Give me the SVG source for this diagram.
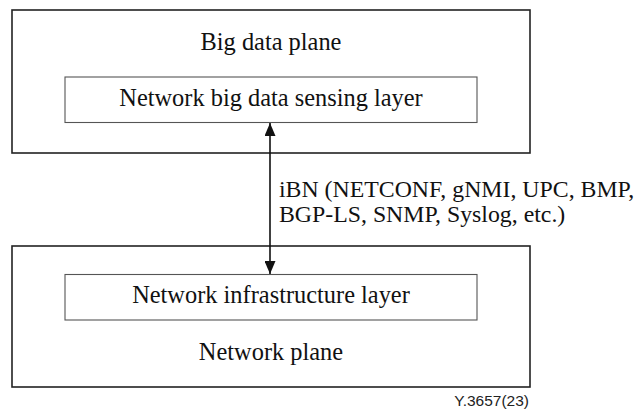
<svg xmlns="http://www.w3.org/2000/svg" width="641" height="410" viewBox="0 0 641 410">
<style>
.outer{fill:none;stroke:#222;stroke-width:1.6}
.inner{fill:none;stroke:#555;stroke-width:1.1}
.t{font-family:"Liberation Serif","Times New Roman",serif;font-size:24.4px;fill:#111}
.lbl{font-size:23.8px}
.c{text-anchor:middle}
.fig{font-family:"Liberation Sans",Arial,sans-serif;font-size:15.5px;fill:#222;text-anchor:end}
.conn{stroke:#111;stroke-width:1.6;fill:none}
</style>
<defs>
<marker id="ah" viewBox="0 0 13 11" refX="13" refY="5.5" markerWidth="13" markerHeight="11" markerUnits="userSpaceOnUse" orient="auto-start-reverse">
<path d="M0,0 L13,5.5 L0,11 Z" fill="#111"/>
</marker>
</defs>
<rect width="641" height="410" fill="#fff"/>
<g id="big-data-plane">
<rect class="outer" x="12" y="10" width="518" height="143"/>
<text class="t c" x="271" y="50">Big data plane</text>
</g>
<g id="sensing-layer">
<rect class="inner" x="65" y="77" width="412" height="45.5"/>
<text class="t c" x="271" y="106">Network big data sensing layer</text>
</g>
<g id="network-plane">
<rect class="outer" x="12" y="246" width="518" height="141"/>
<text class="t c" x="271" y="360">Network plane</text>
</g>
<g id="infrastructure-layer">
<rect class="inner" x="65" y="274.5" width="412" height="45.5"/>
<text class="t c" x="271" y="303">Network infrastructure layer</text>
</g>
<g id="connectors">
<line class="conn" x1="270" y1="123" x2="270" y2="274" marker-start="url(#ah)" marker-end="url(#ah)"/>
<text class="t lbl" x="279" y="197">iBN (NETCONF, gNMI, UPC, BMP,</text>
<text class="t lbl" x="279" y="222">BGP-LS, SNMP, Syslog, etc.)</text>
</g>
<text class="fig" x="529" y="406">Y.3657(23)</text>
</svg>
